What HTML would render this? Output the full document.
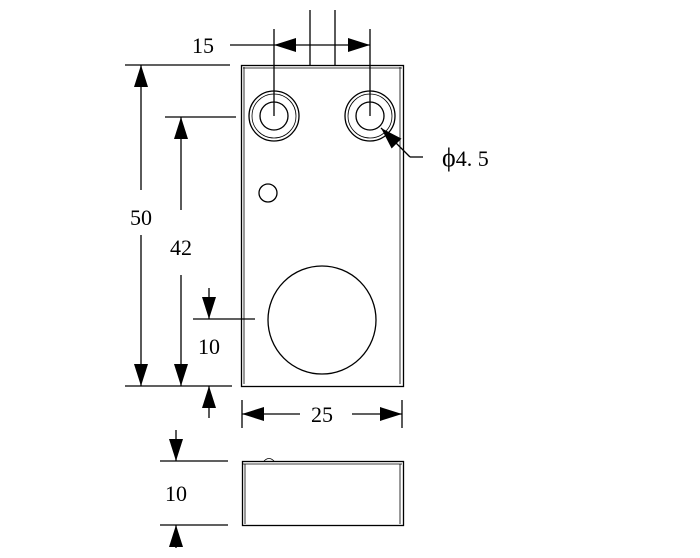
<!DOCTYPE html>
<html><head><style>body{margin:0;background:#fff}svg{display:block}</style></head>
<body>
<svg width="700" height="558" viewBox="0 0 700 558" xmlns="http://www.w3.org/2000/svg">
<defs>
<marker id="a" viewBox="0 0 22 14" refX="22" refY="7" markerWidth="22" markerHeight="14" markerUnits="userSpaceOnUse" orient="auto"><path d="M0,0L22,7L0,14z" fill="#000"/></marker>
</defs>
<g stroke="#000" fill="none" stroke-width="1.3">
<rect x="241.5" y="65.5" width="162" height="321"/>
<line x1="244" y1="67" x2="244" y2="384" stroke-width="0.8"/>
<line x1="400" y1="67" x2="400" y2="384" stroke-width="0.8"/>
<line x1="243" y1="68" x2="402" y2="68" stroke-width="0.8"/>
<line x1="310" y1="10" x2="310" y2="65"/>
<line x1="335" y1="10" x2="335" y2="65"/>
<circle cx="274" cy="116" r="25"/><circle cx="274" cy="116" r="22" stroke-width="0.8"/><circle cx="274" cy="116" r="14"/>
<circle cx="370" cy="116" r="25"/><circle cx="370" cy="116" r="22" stroke-width="0.8"/><circle cx="370" cy="116" r="14"/>
<circle cx="268" cy="193" r="9"/>
<circle cx="322" cy="320" r="54"/>
<line x1="274" y1="29" x2="274" y2="116"/>
<line x1="370" y1="29" x2="370" y2="116"/>
<line x1="230" y1="45" x2="274" y2="45"/>
<line x1="298" y1="45" x2="274" y2="45" marker-end="url(#a)"/>
<line x1="298" y1="45" x2="370" y2="45" marker-end="url(#a)"/>
<line x1="125" y1="65" x2="230" y2="65"/>
<line x1="125" y1="386" x2="232" y2="386"/>
<line x1="141" y1="190" x2="141" y2="65" marker-end="url(#a)"/>
<line x1="141" y1="235" x2="141" y2="386" marker-end="url(#a)"/>
<line x1="165" y1="117" x2="236" y2="117"/>
<line x1="181" y1="210" x2="181" y2="117" marker-end="url(#a)"/>
<line x1="181" y1="275" x2="181" y2="386" marker-end="url(#a)"/>
<line x1="193" y1="319" x2="255" y2="319"/>
<line x1="209" y1="288" x2="209" y2="319" marker-end="url(#a)"/>
<line x1="209" y1="418" x2="209" y2="386" marker-end="url(#a)"/>
<line x1="242" y1="400" x2="242" y2="428"/>
<line x1="402" y1="400" x2="402" y2="428"/>
<line x1="300" y1="414" x2="242" y2="414" marker-end="url(#a)"/>
<line x1="352" y1="414" x2="402" y2="414" marker-end="url(#a)"/>
<rect x="242.5" y="461.5" width="161" height="64"/>
<line x1="245" y1="464" x2="245" y2="524" stroke-width="0.8"/>
<line x1="400" y1="464" x2="400" y2="524" stroke-width="0.8"/>
<line x1="243" y1="464" x2="402" y2="464" stroke-width="0.8"/>
<path d="M264,461 Q269,456 274,461" stroke-width="0.8"/>
<line x1="160" y1="461" x2="228" y2="461"/>
<line x1="160" y1="525" x2="228" y2="525"/>
<line x1="176" y1="430" x2="176" y2="461" marker-end="url(#a)"/>
<line x1="176" y1="548" x2="176" y2="525" marker-end="url(#a)"/>
<line x1="410" y1="157" x2="381" y2="128" marker-end="url(#a)"/>
<line x1="410" y1="157" x2="423" y2="157"/>
</g>
<g font-family="Liberation Serif, serif" font-size="22" fill="#000" text-anchor="middle">
<text x="203" y="53">15</text>
<text x="141" y="225">50</text>
<text x="181" y="255">42</text>
<text x="209" y="354">10</text>
<text x="322" y="422">25</text>
<text x="176" y="501">10</text>
<text x="442" y="166" text-anchor="start"><tspan font-size="26">ϕ</tspan>4. 5</text>
</g>
</svg>
</body></html>
